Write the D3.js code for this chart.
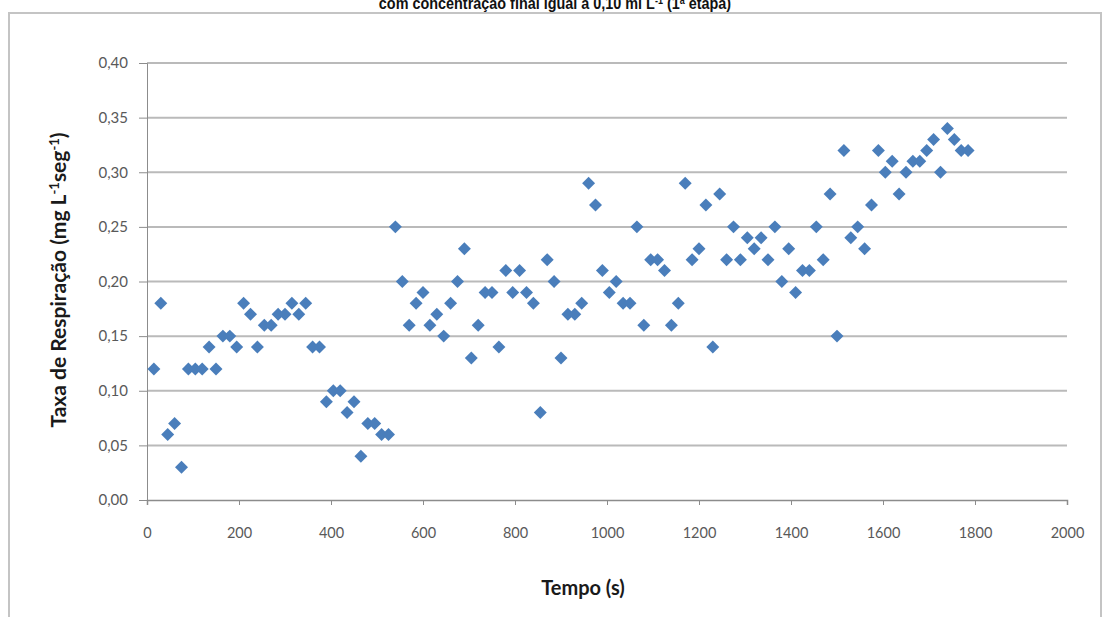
<!DOCTYPE html>
<html>
<head>
<meta charset="utf-8">
<script src="https://cdn.jsdelivr.net/npm/d3@7"></script>
<style>
  body { margin: 0; background: #fff; }
  svg { display: block; }
</style>
</head>
<body>
<div id="chart"></div>
<script>
// time (s) of each reading
const tempo = [
  15, 30, 45, 60, 75, 90, 105, 120, 135, 150, 165, 180, 195, 210, 225, 240,
  255, 270, 285, 300, 315, 330, 345, 360, 375, 390, 405, 420, 435, 450, 465,
  480, 495, 510, 525, 540, 555, 570, 585, 600, 615, 630, 645, 660, 675, 690,
  705, 720, 735, 750, 765, 780, 795, 810, 825, 840, 855, 870, 885, 900, 915,
  930, 945, 960, 975, 990, 1005, 1020, 1035, 1050, 1065, 1080, 1095, 1110,
  1125, 1140, 1155, 1170, 1185, 1200, 1215, 1230, 1245, 1260, 1275, 1290,
  1305, 1320, 1335, 1350, 1365, 1380, 1395, 1410, 1425, 1440, 1455, 1470,
  1485, 1500, 1515, 1530, 1545, 1560, 1575, 1590, 1605, 1620, 1635, 1650,
  1665, 1680, 1695, 1710, 1725, 1740, 1755, 1770, 1785
];
// respiration rate (mg L-1 seg-1)
const taxa = [
  0.12, 0.18, 0.06, 0.07, 0.03, 0.12, 0.12, 0.12, 0.14, 0.12, 0.15, 0.15, 0.14, 0.18, 0.17, 0.14,
  0.16, 0.16, 0.17, 0.17, 0.18, 0.17, 0.18, 0.14, 0.14, 0.09, 0.10, 0.10, 0.08, 0.09, 0.04,
  0.07, 0.07, 0.06, 0.06, 0.25, 0.20, 0.16, 0.18, 0.19, 0.16, 0.17, 0.15, 0.18, 0.20, 0.23,
  0.13, 0.16, 0.19, 0.19, 0.14, 0.21, 0.19, 0.21, 0.19, 0.18, 0.08, 0.22, 0.20, 0.13, 0.17,
  0.17, 0.18, 0.29, 0.27, 0.21, 0.19, 0.20, 0.18, 0.18, 0.25, 0.16, 0.22, 0.22,
  0.21, 0.16, 0.18, 0.29, 0.22, 0.23, 0.27, 0.14, 0.28, 0.22, 0.25, 0.22,
  0.24, 0.23, 0.24, 0.22, 0.25, 0.20, 0.23, 0.19, 0.21, 0.21, 0.25, 0.22,
  0.28, 0.15, 0.32, 0.24, 0.25, 0.23, 0.27, 0.32, 0.30, 0.31, 0.28, 0.30,
  0.31, 0.31, 0.32, 0.33, 0.30, 0.34, 0.33, 0.32, 0.32
];
const xTicks = [0, 200, 400, 600, 800, 1000, 1200, 1400, 1600, 1800, 2000];
const yTicks = [0, 0.05, 0.10, 0.15, 0.20, 0.25, 0.30, 0.35, 0.40];

const width = 1109, height = 617;
const plot = { left: 147, right: 1067, top: 63, bottom: 500 };

const svg = d3.select('#chart')
  .append('svg')
  .attr('width', width)
  .attr('height', height);

// title (cut off at the top, as in the source); squeezed a bit horizontally
const title = svg.append('text')
  .attr('transform', 'translate(555,9) scale(0.9,1)')
  .attr('text-anchor', 'middle')
  .style('font-family', '"Liberation Sans", Arial, sans-serif')
  .style('font-weight', 'bold')
  .style('font-size', '16px')
  .style('fill', '#111');
title.append('tspan').text('com concentração final igual a 0,10 ml L');
title.append('tspan').attr('dy', -5).style('font-size', '10px').text('-1');
title.append('tspan').attr('dy', 5).text(' (1');
title.append('tspan').attr('dy', -5).style('font-size', '10px').text('a');
title.append('tspan').attr('dy', 5).text(' etapa)');

// chart frame
svg.append('rect')
  .attr('x', 9)
  .attr('y', 13)
  .attr('width', 1092)
  .attr('height', 620)
  .style('fill', 'none')
  .style('stroke', '#c4c4c4')
  .style('stroke-width', 2);

const x = d3.scaleLinear().domain([0, 2000]).range([plot.left, plot.right]);
const y = d3.scaleLinear().domain([0, 0.4]).range([plot.bottom, plot.top]);

const ptBR = d3.formatLocale({ decimal: ',', thousands: '.', grouping: [3], currency: ['R$', ''] });
const fmtY = ptBR.format('.2f');

// gridlines
svg.append('g')
  .selectAll('line')
  .data(yTicks.slice(1))
  .enter()
  .append('line')
  .attr('x1', plot.left)
  .attr('x2', plot.right)
  .attr('y1', d => y(d))
  .attr('y2', d => y(d))
  .style('stroke', '#bababa')
  .style('stroke-width', 2);

const axisFont = 'Lato, "Open Sans", sans-serif';

// y axis
const yAxis = svg.append('g')
  .attr('transform', `translate(${plot.left},0)`)
  .call(d3.axisLeft(y).tickValues(yTicks).tickFormat(fmtY).tickSize(8).tickPadding(11));
yAxis.select('.domain').style('stroke', '#8c8c8c');
yAxis.selectAll('.tick line').style('stroke', '#8c8c8c');
yAxis.selectAll('text')
  .style('font-family', axisFont)
  .style('font-size', '15px')
  .style('fill', '#595959');

// x axis
const xAxis = svg.append('g')
  .attr('transform', `translate(0,${plot.bottom})`)
  .call(d3.axisBottom(x).tickValues(xTicks).tickFormat(d3.format('d')).tickSize(5).tickPadding(23));
xAxis.select('.domain').style('stroke', '#8c8c8c').style('stroke-width', 1.5);
xAxis.selectAll('.tick line').style('stroke', '#8c8c8c');
xAxis.selectAll('text')
  .style('font-family', axisFont)
  .style('font-size', '14.5px')
  .style('fill', '#595959');

// points
const points = tempo.map((t, i) => ({ t: t, v: taxa[i] }));
svg.append('g')
  .selectAll('path')
  .data(points)
  .enter()
  .append('path')
  .attr('d', d3.symbol(d3.symbolSquare, 84))
  .attr('transform', d => `translate(${x(d.t)},${y(d.v)}) rotate(45)`)
  .style('fill', '#4a7ebb');

// axis titles
svg.append('text')
  .attr('x', 583)
  .attr('y', 595)
  .attr('text-anchor', 'middle')
  .style('font-family', axisFont)
  .style('font-weight', 'bold')
  .style('font-size', '20px')
  .style('fill', '#1a1a1a')
  .text('Tempo (s)');

const yTitle = svg.append('text')
  .attr('transform', 'translate(66,280) rotate(-90)')
  .attr('text-anchor', 'middle')
  .style('font-family', axisFont)
  .style('font-weight', 'bold')
  .style('font-size', '21px')
  .style('fill', '#1a1a1a');
yTitle.append('tspan').text('Taxa de Respiração (mg L');
yTitle.append('tspan').attr('dy', -7).style('font-size', '13px').text('-1');
yTitle.append('tspan').attr('dy', 7).text('seg');
yTitle.append('tspan').attr('dy', -7).style('font-size', '13px').text('-1');
yTitle.append('tspan').attr('dy', 7).text(')');
</script>
</body>
</html>
